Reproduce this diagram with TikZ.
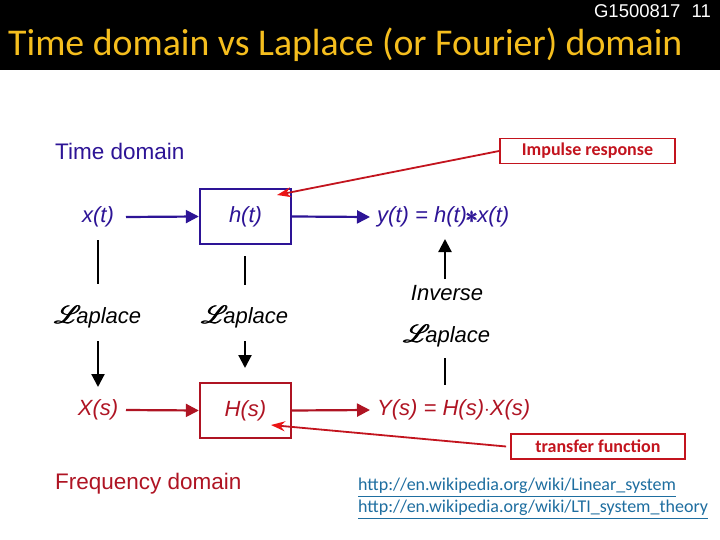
\documentclass[tikz,border=0pt]{standalone}
\usepackage{amsmath}
\usepackage{fontspec}
\usepackage{mathrsfs}
\setmainfont{Liberation Sans}
\newfontfamily\calibri{Carlito}
\usetikzlibrary{arrows.meta}
\definecolor{tblue}{RGB}{45,20,150}
\definecolor{fred}{RGB}{175,20,35}
\definecolor{cred}{RGB}{195,20,30}
\definecolor{ured}{RGB}{235,20,20}
\definecolor{ttlcol}{RGB}{245,190,30}
\definecolor{urlcol}{RGB}{30,110,160}
\newcommand{\lapl}{{\fontsize{34}{34}\selectfont$\pmb{\mathscr{L}}$}\kern-5pt{\itshape aplace}}
\begin{document}
\begin{tikzpicture}[x=1pt,y=-1pt,
  lbl/.style={font=\fontsize{22}{26}\selectfont\itshape, inner sep=0pt},
  hdr/.style={font=\fontsize{22.5}{26}\selectfont, inner sep=0pt, anchor=west},
  blk/.style={draw, line width=2.4pt, minimum width=91pt, minimum height=55pt, inner sep=0pt},
  arr/.style={-{Triangle[length=13pt,width=13pt]}, line width=2.2pt},
  vln/.style={line width=2.2pt, black},
  note/.style={draw=cred, line width=1.8pt, text=cred, font=\calibri\bfseries\fontsize{18}{20}\selectfont, inner sep=0pt},
  annot/.style={draw=cred, line width=1.8pt, -{Stealth[length=14pt,width=10pt,color=ured]}},
  url/.style={font=\calibri\fontsize{18}{21}\selectfont, text=urlcol, inner sep=0pt, anchor=west}]
\useasboundingbox (0,0) rectangle (720,540);
\fill[white] (0,0) rectangle (720,540);
\fill[black] (0,0) rectangle (720,70);
\node[anchor=north east, white, font=\fontsize{18.5}{20}\selectfont, inner sep=0pt] (num) at (711,4) {G1500817\hspace{0.6em}11};
\node[anchor=base west, text=ttlcol, font=\calibri\fontsize{37.8}{40}\selectfont, inner sep=0pt] (ttl) at (8,56) {Time domain vs Laplace (or Fourier) domain};

% time domain row
\node[hdr, text=tblue] (td) at (55,151) {Time domain};
\node[lbl, text=tblue] (xt) at (98,217) {x(t)};
\node[blk, draw=tblue, text=tblue, font=\fontsize{22}{26}\selectfont\itshape] (ht) at (245.5,216.5) {h(t)};
\node[lbl, text=tblue, anchor=west] (yt) at (377,217) {y(t) = h(t)\kern-1pt\raisebox{-1pt}{\fontsize{40}{40}\selectfont$\pmb{\ast}$}\kern-1pt x(t)};
\coordinate (xte) at (126,217);
\coordinate (yte) at (370,217);
\draw[arr, tblue] (xte) -- (ht.west);
\draw[arr, tblue] (ht.east) -- (yte);

% frequency domain row
\node[lbl, text=fred] (xs) at (98,410) {X(s)};
\node[blk, draw=fred, text=fred, font=\fontsize{22}{26}\selectfont\itshape] (hs) at (245.5,410.5) {H(s)};
\node[lbl, text=fred, anchor=west] (ys) at (377,410) {Y(s) = H(s)$\cdot$X(s)};
\coordinate (xse) at (126,410);
\coordinate (yse) at (370,410);
\draw[arr, fred] (xse) -- (hs.west);
\draw[arr, fred] (hs.east) -- (yse);
\node[hdr, text=fred] (fd) at (55,484) {Frequency domain};

% Laplace transforms
\node[lbl, font=\fontsize{22}{26}\selectfont] (l1) at (98,317) {\lapl};
\node[lbl, font=\fontsize{22}{26}\selectfont] (l2) at (245,317) {\lapl};
\node[lbl] (inv) at (447,293) {Inverse};
\node[lbl, font=\fontsize{22}{26}\selectfont] (l3) at (447,336) {\lapl};

\coordinate (a1) at (98,240); \coordinate (a2) at (98,284);
\coordinate (a3) at (98,341); \coordinate (a4) at (98,387);
\draw[vln] (a1) -- (a2);
\draw[arr, black] (a3) -- (a4);
\coordinate (b1) at (245,256); \coordinate (b2) at (245,285);
\coordinate (b3) at (245,341); \coordinate (b4) at (245,368);
\draw[vln] (b1) -- (b2);
\draw[arr, black] (b3) -- (b4);
\coordinate (c1) at (445,279); \coordinate (c2) at (445,239);
\coordinate (c3) at (445,358); \coordinate (c4) at (445,385);
\draw[arr, black] (c1) -- (c2);
\draw[vln] (c3) -- (c4);

% annotations
\node[note, minimum width=175pt, minimum height=25pt] (ir) at (587.5,151) {Impulse response};
\node[note, minimum width=174pt, minimum height=25pt] (tf) at (598,446.5) {transfer function};
\coordinate (irt) at (277,195);
\coordinate (tft) at (271,425);
\draw[annot] (ir.west) -- (irt);
\draw[annot] ([xshift=-4pt]tf.west) -- (tft);

% urls
\node[url] (u1) at (358,488) {\underline{http://en.wikipedia.org/wiki/Linear\_system}};
\node[url] (u2) at (358,510) {\underline{http://en.wikipedia.org/wiki/LTI\_system\_theory}};
\end{tikzpicture}
\end{document}
